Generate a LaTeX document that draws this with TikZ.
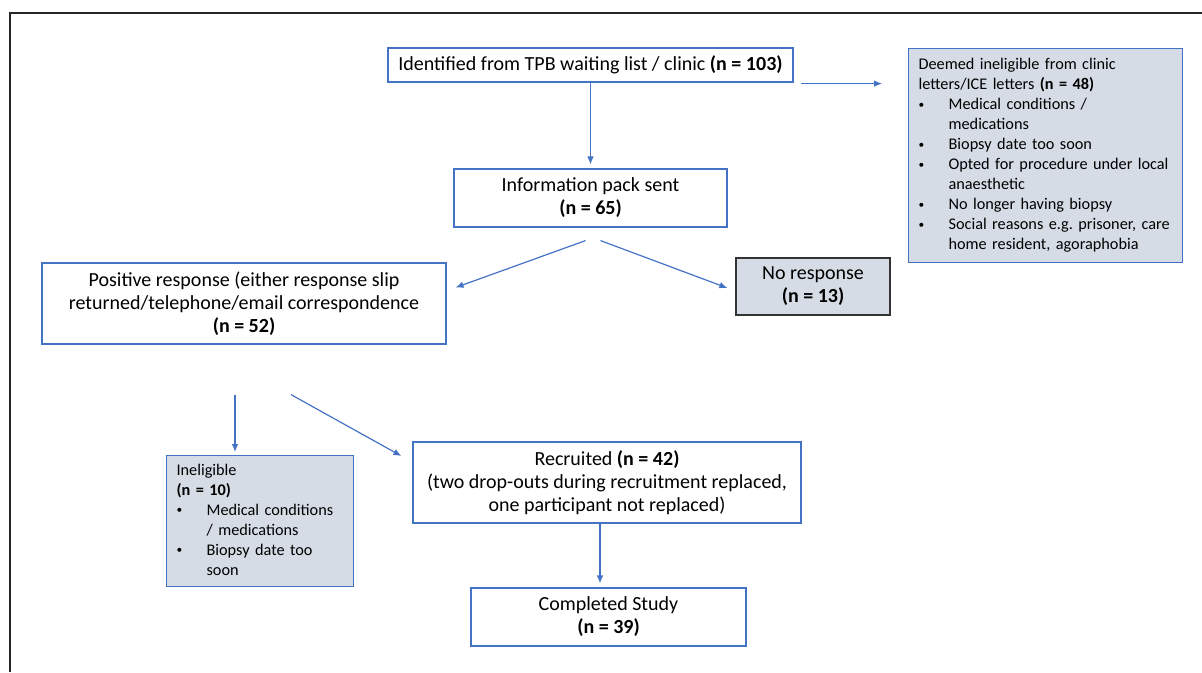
\documentclass[tikz,border=0pt]{standalone}
\usepackage{fontspec}
\setmainfont{Carlito}
\usetikzlibrary{arrows.meta,calc}
\definecolor{flowBlue}{HTML}{4472C4}
\definecolor{flowGrey}{HTML}{D6DCE5}
\definecolor{flowDark}{HTML}{333333}

\newcommand{\px}{0.75pt}
\newcommand{\mainsize}{\fontsize{15}{17.25}\selectfont}
\newcommand{\smallsize}{\fontsize{12.2}{15}\selectfont}
\newcommand{\blt}{\raisebox{0.15ex}{\scalebox{0.7}{\textbullet}}}

\begin{document}
\begin{tikzpicture}[x=0.75pt, y=-0.75pt,
    box/.style={draw=flowBlue, line width=0.9pt, fill=white, align=center, font=\mainsize, inner sep=0pt},
    greybox/.style={draw=flowBlue, line width=0.9pt, fill=flowGrey, anchor=north west, align=left, font=\smallsize, inner xsep=10*\px, inner ysep=0pt},
    arrow/.style={-{Latex[length=6pt,width=5pt]}, draw=flowBlue, line width=0.9pt}
  ]
    \useasboundingbox (0,0) rectangle (1202,672);
    % outer frame
    \draw[line width=1.5pt, black!85] (9.5,672) -- (9.5,13) -- (1202,13);

    \node[box, minimum width=405*\px, minimum height=34*\px] (ident) at (590.5,65) {Identified from TPB waiting list / clinic \textbf{(n = 103)}};
    \node[box, minimum width=273*\px, minimum height=58*\px] (pack) at (590.5,198) {Information pack sent\\ \textbf{(n = 65)}};
    \node[box, minimum width=404*\px, minimum height=81*\px] (posresp) at (244,303.5) {Positive response (either response slip\\ returned/telephone/email correspondence\\ \textbf{(n = 52)}};
    \node[box, draw=flowDark, fill=flowGrey, minimum width=154*\px, minimum height=57*\px] (noresp) at (813,286.5) {No response\\ \textbf{(n = 13)}};
    \node[box, minimum width=388*\px, minimum height=81*\px] (recruit) at (607,482.5) {Recruited \textbf{(n = 42)}\\ (two drop-outs during recruitment replaced,\\ one participant not replaced)};
    \node[box, minimum width=275*\px, minimum height=58*\px] (complete) at (608.5,617) {Completed Study\\ \textbf{(n = 39)}};

    \node[greybox, text width=254*\px, minimum height=214*\px] (inelclinic) at (908,48) {%
      \begin{tabular}{@{}p{22.5pt}@{}l@{}}
        \multicolumn{2}{@{}l@{}}{Deemed ineligible from clinic}\\
        \multicolumn{2}{@{}l@{}}{letters/ICE letters \textbf{(n = 48)}}\\
        \blt & Medical conditions /\\
             & medications\\
        \blt & Biopsy date too soon\\
        \blt & Opted for procedure under local\\
             & anaesthetic\\
        \blt & No longer having biopsy\\
        \blt & Social reasons e.g.\ prisoner, care\\
             & home resident, agoraphobia
      \end{tabular}};
    \node[greybox, text width=167*\px, minimum height=131*\px] (inelrecruit) at (166,455) {%
      \begin{tabular}{@{}p{22.5pt}@{}l@{}}
        \multicolumn{2}{@{}l@{}}{Ineligible}\\
        \multicolumn{2}{@{}l@{}}{\textbf{(n = 10)}}\\
        \blt & Medical conditions\\
             & / medications\\
        \blt & Biopsy date too\\
             & soon
      \end{tabular}};

    \draw[arrow, shorten >=4*\px] (ident) -- (pack);
    \draw[arrow] ($(ident.south east)+(7,1)$) -- ($(inelclinic.west |- ident.south)+(-26,1)$);
    \draw[arrow] ($(pack.south)+(-5,13)$) -- ($(posresp.east)+(9,-16)$);
    \draw[arrow] ($(pack.south)+(10,13)$) -- ($(noresp.west)+(-8,1.5)$);
    \draw[arrow] ($(posresp.south)+(-9,50)$) -- ($(inelrecruit.north west)+(69,-3)$);
    \draw[arrow] ($(posresp.south)+(47,50)$) -- ($(recruit.west)+(-11,-26.5)$);
    \draw[arrow] ($(recruit.south)+(-7,0)$) -- ($(complete.north)+(-8.5,-4)$);
  \end{tikzpicture}
\end{document}
